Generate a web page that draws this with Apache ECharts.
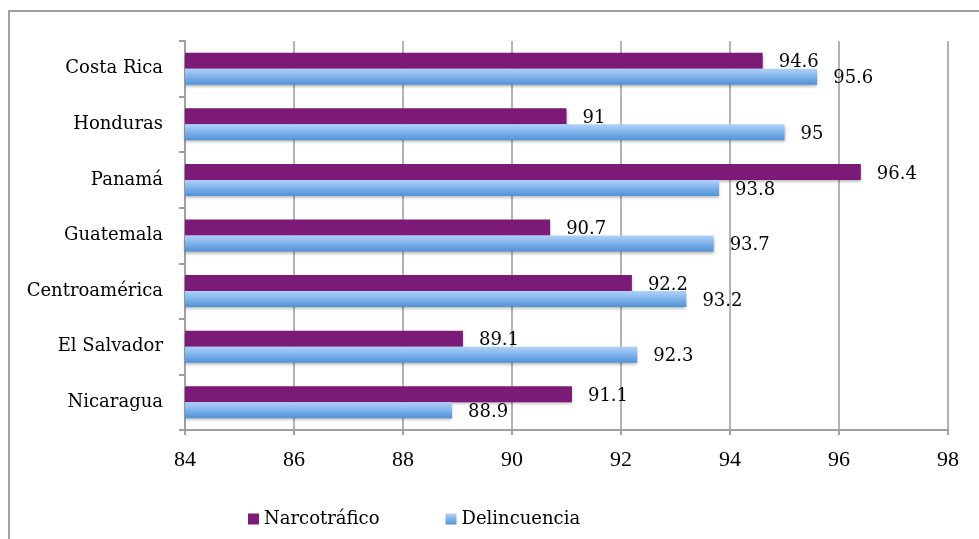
<!DOCTYPE html>
<html>
<head>
<meta charset="utf-8">
<script src="https://cdn.jsdelivr.net/npm/echarts@6/dist/echarts.min.js"></script>
<style>
html,body{margin:0;padding:0;background:#fff;}
#chart{width:979px;height:539px;}
</style>
</head>
<body>
<div id="chart"></div>
<script>
const categories = ['Costa Rica', 'Honduras', 'Panamá', 'Guatemala', 'Centroamérica', 'El Salvador', 'Nicaragua'];
const narcotrafico = [94.6, 91, 96.4, 90.7, 92.2, 89.1, 91.1];
const delincuencia = [95.6, 95, 93.8, 93.7, 93.2, 92.3, 88.9];
const seriesNames = ['Narcotráfico', 'Delincuencia'];

const chart = echarts.init(document.getElementById('chart'));
const serif = "'DejaVu Serif', serif";
const labelStyle = {
  show: true,
  position: 'right',
  distance: 16,
  offset: [0, 2],
  color: '#000',
  fontFamily: serif,
  fontSize: 18
};
chart.setOption({
  animation: false,
  backgroundColor: '#fff',
  graphic: [{
    type: 'rect',
    shape: { x: 9, y: 11, width: 1000, height: 600 },
    style: { fill: 'none', stroke: '#a0a0a0', lineWidth: 2 },
    silent: true
  }],
  grid: { left: 185, right: 31, top: 41, bottom: 109, containLabel: false },
  legend: {
    left: 243,
    top: 503,
    itemWidth: 11,
    itemHeight: 11,
    itemGap: 66,
    icon: 'rect',
    textStyle: { fontFamily: serif, fontSize: 18, color: '#000', lineHeight: 22 },
    data: seriesNames
  },
  xAxis: {
    type: 'value',
    min: 84,
    max: 98,
    interval: 2,
    axisLine: { show: true, lineStyle: { color: '#a0a0a0', width: 2 } },
    axisTick: { show: true, length: 5, lineStyle: { color: '#a0a0a0', width: 2 } },
    axisLabel: { margin: 19, color: '#000', fontFamily: "'Liberation Serif', serif", fontSize: 22 },
    splitLine: { show: true, lineStyle: { color: '#9a9a9a', width: 1.5 } }
  },
  yAxis: {
    type: 'category',
    inverse: true,
    data: categories,
    axisLine: { show: true, lineStyle: { color: '#a0a0a0', width: 2 } },
    axisTick: { show: true, length: 6, lineStyle: { color: '#a0a0a0', width: 2 } },
    axisLabel: { margin: 22, color: '#000', fontFamily: serif, fontSize: 18 }
  },
  series: [
    {
      name: seriesNames[0],
      type: 'bar',
      data: narcotrafico,
      barWidth: 16,
      barGap: '0%',
      itemStyle: {
        color: '#7b1a77',
        shadowColor: 'rgba(0,0,0,0.3)',
        shadowBlur: 3,
        shadowOffsetY: 2
      },
      label: labelStyle
    },
    {
      name: seriesNames[1],
      type: 'bar',
      data: delincuencia,
      barWidth: 16,
      barGap: '0%',
      itemStyle: {
        color: new echarts.graphic.LinearGradient(0, 0, 0, 1, [
          { offset: 0, color: '#aed2fa' },
          { offset: 1, color: '#5092d8' }
        ]),
        shadowColor: 'rgba(0,0,0,0.3)',
        shadowBlur: 3,
        shadowOffsetY: 2
      },
      label: labelStyle
    }
  ]
});
</script>
</body>
</html>
